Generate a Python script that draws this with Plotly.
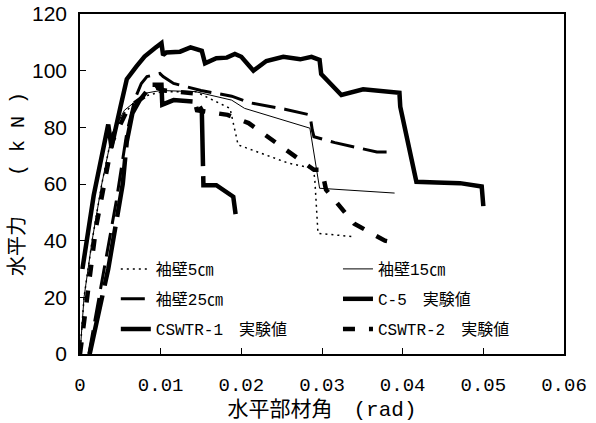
import plotly.graph_objects as go

# ---- data ----
x_5cm = [0, 0.0005, 0.0015, 0.0027, 0.004, 0.0055, 0.0065, 0.008, 0.010, 0.0143, 0.0186, 0.0196, 0.0225, 0.0258, 0.0289, 0.0291, 0.0295, 0.0339]
y_5cm = [0, 20, 40, 60, 78, 85, 88, 91, 92.5, 92.6, 86.7, 73.8, 70.8, 67.4, 65.5, 62, 42.6, 41.4]

x_15cm = [0, 0.0005, 0.0015, 0.0027, 0.004, 0.0055, 0.0068, 0.008, 0.010, 0.0143, 0.0188, 0.0204, 0.0285, 0.0297, 0.039]
y_15cm = [0, 20, 40, 60, 78, 86, 89, 92, 93, 92.6, 89.6, 86.7, 79.7, 58.5, 56.8]

x_25cm = [0.0011, 0.0045, 0.0058, 0.0068, 0.0076, 0.0083, 0.0099, 0.0103, 0.0116, 0.015, 0.0188, 0.021, 0.0254, 0.0285, 0.0288, 0.029, 0.0316, 0.0343, 0.0368, 0.0388]
y_25cm = [0, 54, 78, 90, 95.5, 97.9, 99, 97.9, 95.5, 93, 91, 88.7, 86.4, 84.4, 79, 76.7, 74.6, 73, 71.3, 71.3]

x_c5 = [0.0012, 0.0035, 0.0053, 0.0058, 0.0065, 0.0074, 0.0089, 0.0101, 0.0102, 0.0116, 0.0145, 0.0151, 0.0153, 0.0169, 0.019, 0.0194]
y_c5 = [0, 30, 60, 75, 85, 89.6, 95, 95, 88, 89.6, 89, 86, 59.6, 59.6, 55.5, 47]

x_cswtr1 = [0.0003, 0.0017, 0.0035, 0.0039, 0.005, 0.0058, 0.007, 0.008, 0.0093, 0.0101, 0.0103, 0.0107, 0.0124, 0.0137, 0.0151, 0.0155, 0.0169, 0.0182, 0.0192, 0.020, 0.0215, 0.0231, 0.0252, 0.0273, 0.0287, 0.0297, 0.0299, 0.0324, 0.0351, 0.0396, 0.0397, 0.0417, 0.0442, 0.0471, 0.0498, 0.050]
y_cswtr1 = [30, 56, 81, 73, 87, 97, 101.5, 105, 108, 109.7, 105.5, 106.4, 106.7, 108.2, 107, 102.6, 104.4, 104.6, 105.9, 104.9, 100, 103.4, 104.9, 104, 104.9, 103.8, 98.8, 91.4, 93.4, 92.2, 87.3, 60.8, 60.5, 60.3, 59.1, 52.2]

x_cswtr2 = [0, 0.002, 0.004, 0.006, 0.008, 0.0095, 0.0105, 0.014, 0.0145, 0.0183, 0.0209, 0.0244, 0.029, 0.0298, 0.0302, 0.0305, 0.034, 0.0378, 0.0387, 0.039]
y_cswtr2 = [0, 45, 75, 87, 91, 94, 93, 92, 86, 84.4, 81.5, 74.5, 65, 65, 62, 58, 46, 40, 39.5, 36.5]

names = ["袖壁5㎝", "袖壁15㎝", "袖壁25㎝", "C-5　実験値", "CSWTR-1　実験値", "CSWTR-2　実験値"]

x_tickvals = [0, 0.01, 0.02, 0.03, 0.04, 0.05, 0.06]
x_ticktext = ["0", "0.01", "0.02", "0.03", "0.04", "0.05", "0.06"]
y_tickvals = [0, 20, 40, 60, 80, 100, 120]

fig = go.Figure()
series = [
    (x_5cm, y_5cm, 1.5, "2px,4px", "legend"),
    (x_15cm, y_15cm, 1, "solid", "legend2"),
    (x_25cm, y_25cm, 3, "24px,9px", "legend3"),
    (x_c5, y_c5, 4.5, "60px,10px", "legend4"),
    (x_cswtr1, y_cswtr1, 4.5, "solid", "legend5"),
    (x_cswtr2, y_cswtr2, 4.5, "12px,14px", "legend6"),
]
for (xs, ys, w, d, lg), nm in zip(series, names):
    fig.add_trace(go.Scatter(x=xs, y=ys, mode="lines", name=nm,
                             line=dict(color="black", width=w, dash=d),
                             legend=lg, showlegend=True))

legfont = dict(family="Liberation Mono, Noto Sans CJK JP", size=16, color="black")
rows = [0.25, 0.25, 0.162, 0.162, 0.0735, 0.0735]
cols = [0.074, 0.533, 0.074, 0.533, 0.074, 0.533]
leg_keys = ["legend", "legend2", "legend3", "legend4", "legend5", "legend6"]
layout_legs = {}
for k, xr, yr in zip(leg_keys, cols, rows):
    layout_legs[k] = dict(x=xr, y=yr, xanchor="left", yanchor="middle",
                          bgcolor="rgba(0,0,0,0)", borderwidth=0, font=legfont)

fig.update_layout(
    width=596, height=423,
    margin=dict(l=80, r=32, t=14, b=69, autoexpand=False),
    paper_bgcolor="white", plot_bgcolor="white",
    **layout_legs,
)
fig.update_xaxes(range=[0, 0.06], tickvals=x_tickvals, ticktext=x_ticktext,
                 ticks="inside", ticklen=6, tickcolor="black", automargin=False,
                 showline=True, linecolor="black", linewidth=1.5, mirror=True,
                 showgrid=False, zeroline=False, ticklabelstandoff=12,
                 tickfont=dict(family="Liberation Mono", size=19, color="black"),
                 title=dict(text="水平部材角　(rad)", standoff=6,
                            font=dict(family="Liberation Mono, Noto Sans CJK JP", size=21, color="black")))
fig.update_yaxes(range=[0, 120], tickvals=y_tickvals,
                 ticks="inside", ticklen=6, tickcolor="black", automargin=False,
                 showline=True, linecolor="black", linewidth=1.5, mirror=True,
                 showgrid=False, zeroline=False, ticklabelstandoff=7,
                 tickfont=dict(family="Liberation Sans", size=21, color="black"),
                 title=dict(text="水平力　　( k N )", standoff=2,
                            font=dict(family="Liberation Mono, Noto Sans CJK JP", size=20, color="black")))

fig.write_html("out.html")
